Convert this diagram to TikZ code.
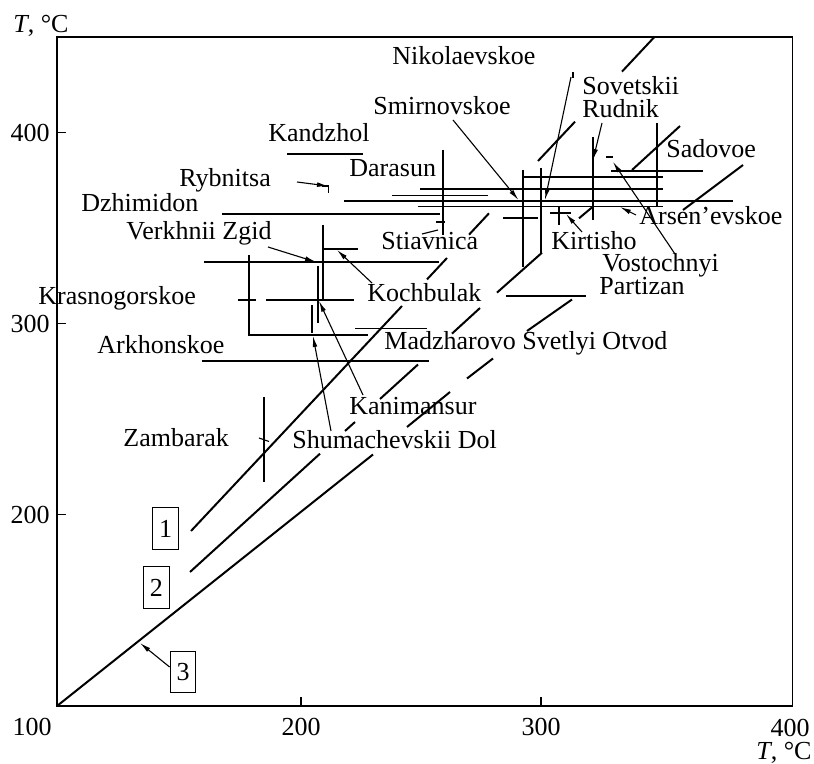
\documentclass[tikz,border=0pt]{standalone}
\usepackage{fontspec}
\setmainfont{Liberation Serif}
\usetikzlibrary{arrows.meta}

\begin{document}
\begin{tikzpicture}[x=0.5pt, y=-0.5pt,
    font=\fontsize{13}{15}\selectfont,
    lbl/.style={anchor=base west, inner sep=0pt},
    bar/.style={line width=0.8pt},
    trend/.style={line width=1pt},
    ptr/.style={line width=0.55pt, -{Latex[length=5.5pt,width=2.4pt]}},
    numbox/.style={draw, line width=0.6pt, minimum width=12.8pt, minimum height=20.8pt, inner sep=0pt}]
    \useasboundingbox (0,0) rectangle (814,764);

    % Frame and ticks
    \draw[line width=0.8pt] (57,37) rectangle (792.5,706);
    \foreach \y/\v in {132.7/400, 323.3/300, 514.3/200} {
        \draw[line width=0.6pt] (57,\y) -- (66,\y);
        \node[anchor=base east, inner sep=0pt] at (50,\y+9) {\v};
    }
    \foreach \x/\v in {301/200, 541/300} {
        \draw[line width=0.6pt] (\x,706) -- (\x,697);
        \node[anchor=base, inner sep=0pt] at (\x,735) {\v};
    }
    \node[anchor=base, inner sep=0pt] (x100) at (32,735) {100};
    \node[anchor=base, inner sep=0pt] (x400) at (790,736) {400};
    \node[lbl] (yname) at (13,33) {\textit{T}, °C};
    \node[anchor=base east, inner sep=0pt] (xname) at (812,759) {\textit{T}, °C};

    % Trend lines 1, 2, 3
    \draw[trend] (191,531) -- (402,306);
    \draw[trend] (427,279.4) -- (447,258);
    \draw[trend] (469,234.7) -- (489,213.3);
    \draw[trend] (538,161) -- (575,121.7);
    \draw[trend] (622,71.6) -- (654.4,37);

    \draw[trend] (190,572) -- (320,453.7);
    \draw[trend] (345,431) -- (355,422);
    \draw[trend] (380,399) -- (418,364.5);
    \draw[trend] (452,333.6) -- (480,308);
    \draw[trend] (497,292.6) -- (542,252.7);
    \draw[trend] (579,218.3) -- (592.5,207);
    \draw[trend] (632,170) -- (680,126);

    \draw[trend] (57,706) -- (373,454.5);
    \draw[trend] (407,427) -- (450,392);
    \draw[trend] (467,378.5) -- (493,358.5);
    \draw[trend] (527,331) -- (572,299.5);
    \draw[trend] (683,210) -- (743,165);

    \node[numbox] (box1) at (165.5,528.5) {1};
    \node[numbox] (box2) at (156.3,587.5) {2};
    \node[numbox] (box3) at (183,672) {3};
    \draw[ptr] ([yshift=2.5pt]box3.west) -- (140,643);

    % Deposit ranges
    \draw[bar] (287,154) -- (363,154);
    \draw[bar] (322,186) -- (328.5,186) -- (328.5,193);
    \draw[bar] (443,150) -- (443,235);
    \draw[bar] (420,189) -- (663,189);
    \draw[bar] (392,195.7) -- (488,195.7);
    \draw[bar] (344,201) -- (733,201);
    \draw[bar] (418,206.7) -- (663,206.7);
    \draw[bar] (222,214) -- (440,214);
    \draw[bar] (436,222) -- (445,222);
    \draw[line width=0.55pt] (422,234) -- (438,230);

    \draw[bar] (523,177) -- (663,177);
    \draw[bar] (523,170) -- (523,267);
    \draw[bar] (541,168) -- (541,253);
    \draw[bar] (503,218) -- (538,218);
    \draw[bar] (593,137) -- (593,220);
    \draw[bar] (657,123) -- (657,207);
    \draw[bar] (550,213) -- (571,213);
    \draw[bar] (559,207) -- (559,225);
    \draw[bar] (611,171) -- (703,171);
    \draw[bar] (606,157) -- (613,157);
    \draw[bar] (573,72) -- (573,78);

    \draw[bar] (323,225) -- (323,300);
    \draw[bar] (323,249) -- (358,249);
    \draw[bar] (204,262) -- (439,262);
    \draw[bar] (318,266) -- (318,323);
    \draw[bar] (237.5,300) -- (255.5,300);
    \draw[bar] (266,300) -- (354,300);
    \draw[bar] (249,255) -- (249,335) -- (368,335);
    \draw[bar] (311.7,305) -- (311.7,333);
    \draw[bar] (355,328.5) -- (427,328.5);
    \draw[bar] (506,296) -- (586,296);
    \draw[bar] (202,361) -- (429,361);
    \draw[bar] (264,397) -- (264,482);
    \draw[line width=0.55pt] (259,438) -- (269,441.5);

    % Deposit names
    \node[lbl] (nikol) at (392,65) {Nikolaevskoe};
    \node[lbl, align=left, font=\fontsize{13}{11.5}\selectfont] (sovet) at (582,118) {Sovetskii\\Rudnik};
    \node[lbl] (smirn) at (373,115) {Smirnovskoe};
    \node[lbl] (kandzhol) at (268,142) {Kandzhol};
    \node[lbl] (darasun) at (349,177) {Darasun};
    \node[lbl] (sadovoe) at (666,158) {Sadovoe};
    \node[lbl] (rybnitsa) at (179,187) {Rybnitsa};
    \node[lbl] (dzhim) at (81,212) {Dzhimidon};
    \node[lbl] (arsen) at (639,225) {Arsen’evskoe};
    \node[lbl] (vzgid) at (126,240) {Verkhnii Zgid};
    \node[lbl] (stiav) at (381,250) {Stiavnica};
    \node[lbl] (kirt) at (551,250) {Kirtisho};
    \node[lbl] (vost) at (602,272) {Vostochnyi};
    \node[lbl] (partizan) at (599,295) {Partizan};
    \node[lbl] (kochb) at (367,302) {Kochbulak};
    \node[lbl] (krasn) at (38,305) {Krasnogorskoe};
    \node[lbl] (madzh) at (384,350) {Madzharovo Svetlyi Otvod};
    \node[lbl] (arkh) at (97,354) {Arkhonskoe};
    \node[lbl] (kanim) at (349,415) {Kanimansur};
    \node[lbl] (zamb) at (123,447) {Zambarak};
    \node[lbl] (shum) at (292,449) {Shumachevskii Dol};

    % Pointers
    \draw[ptr] (297,182) -- (328,186);
    \draw[ptr] (268,247) -- (316,262);
    \draw[ptr] (372,283) -- (337,250);
    \draw[ptr] (363,395) -- (319,301);
    \draw[ptr] (331,431) -- (313,336);
    \draw[ptr] (453,120) -- (518.5,200);
    \draw[ptr] (571,77) -- (545,200);
    \draw[ptr] (602,123) -- (593,160);
    \draw[ptr] (675,254) -- (613,162);
    \draw[ptr] (636,215) -- (620,207);
    \draw[ptr] (582,232) -- (566,214);
\end{tikzpicture}
\end{document}
